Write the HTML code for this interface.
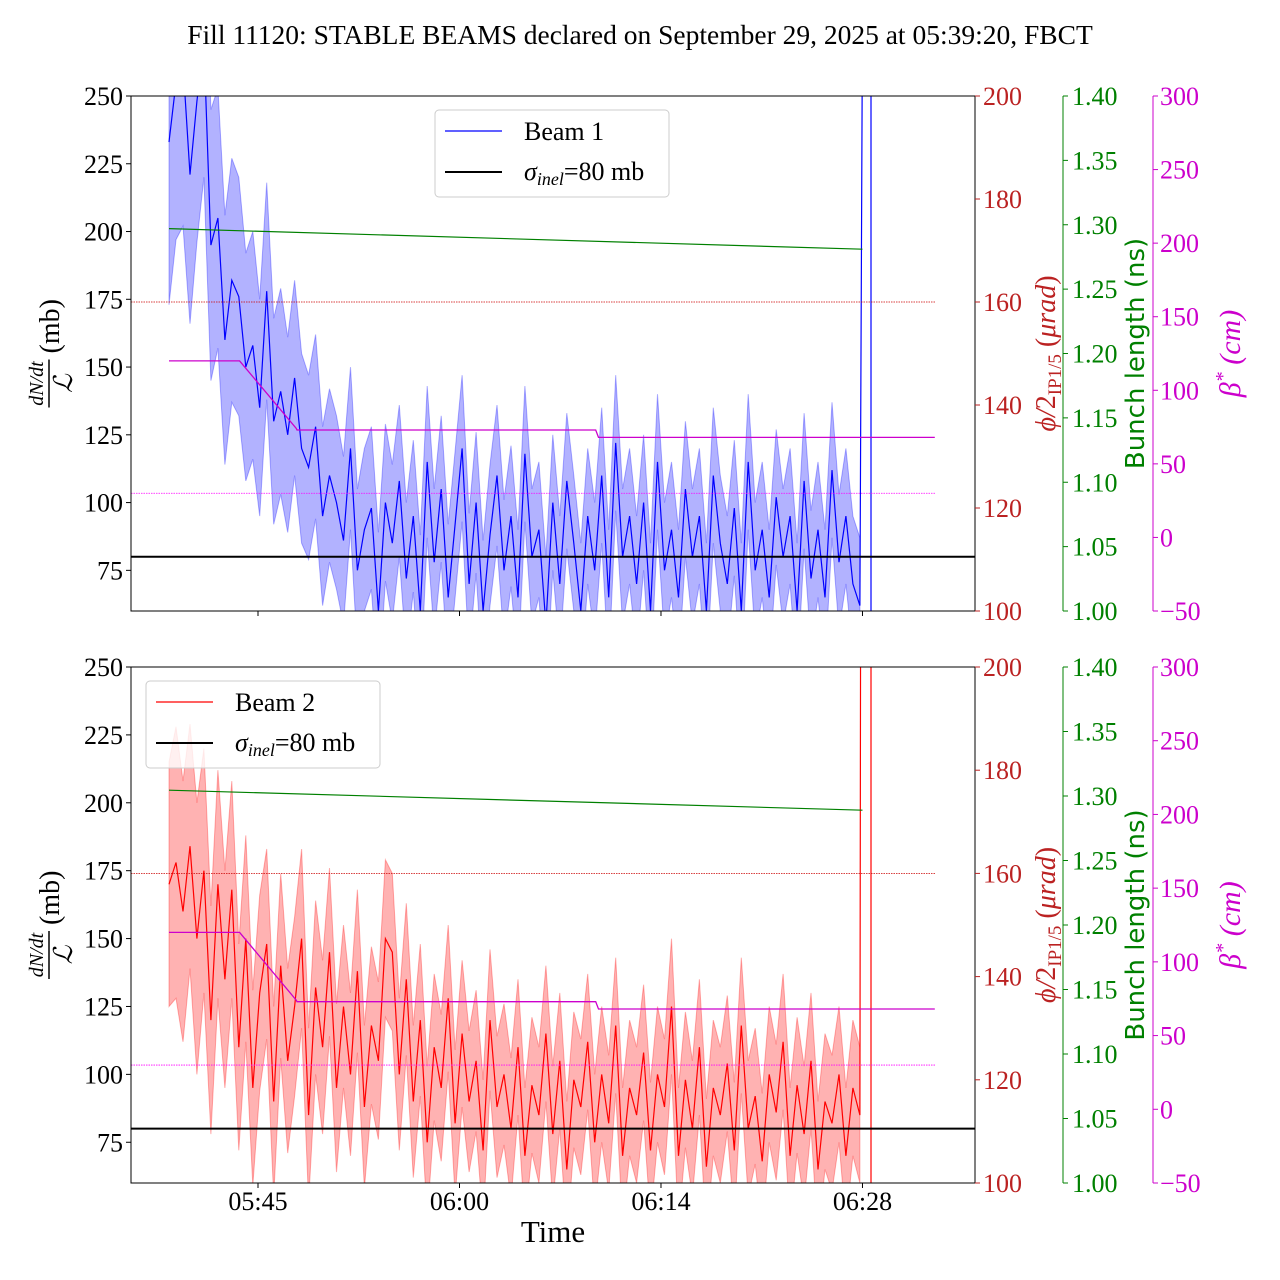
<!DOCTYPE html>
<html><head><meta charset="utf-8"><style>
html,body{margin:0;padding:0;background:#fff;width:1280px;height:1280px;overflow:hidden}
svg{display:block;font-family:"Liberation Serif",serif}
</style></head><body>
<svg id="chart" width="1280" height="1280" viewBox="0 0 1280 1280" xmlns="http://www.w3.org/2000/svg">
<text x="640" y="44" font-size="27.5" text-anchor="middle">Fill 11120: STABLE BEAMS declared on September 29, 2025 at 05:39:20, FBCT</text>
</svg>
<script>
// ---- data ----
const tickLabels = ["05:45","06:00","06:14","06:28"];
const tickMinutes = [45.6, 59.8, 74.0, 88.2];
const startMinute = 39.33;
const stepMinute = 0.4918;
const leftTicks = [75,100,125,150,175,200,225,250];
const redTicks = [100,120,140,160,180,200];
const greenTicks = ["1.00","1.05","1.10","1.15","1.20","1.25","1.30","1.35","1.40"];
const magentaTicks = [-50,0,50,100,150,200,250,300];
const beam1 = [233,255,262,221,248,270,195,205,160,182,176,150,158,135,178,130,141,125,146,120,113,128,95,110,100,86,120,75,90,98,60,100,85,108,72,95,60,115,78,105,65,92,120,70,100,60,88,110,75,95,65,118,80,90,55,100,70,108,85,60,95,75,110,65,122,80,95,70,100,60,115,75,90,65,105,80,95,60,110,85,70,98,60,115,75,90,65,102,80,95,60,108,72,90,65,112,78,95,70,62];
const beam1Err = [60,58,60,55,52,50,50,48,46,45,44,42,42,40,40,38,38,36,36,35,34,34,33,32,32,31,30,30,30,30,29,29,29,28,28,28,28,28,27,27,27,27,27,26,26,26,26,26,26,26,25,25,25,25,25,25,25,25,25,25,25,25,25,25,25,25,25,25,25,25,25,25,25,25,25,25,25,25,25,25,25,25,25,25,25,25,25,25,25,25,25,25,25,25,25,25,25,25,25,25];
const beam2 = [170,178,160,184,150,175,120,170,135,168,110,150,95,130,148,90,140,105,125,150,85,132,110,145,95,125,100,138,88,118,105,150,145,100,135,90,120,75,110,95,128,82,115,90,105,72,120,88,100,80,110,70,96,85,115,78,105,65,98,88,112,75,100,82,118,70,95,85,108,72,100,88,125,70,98,80,110,66,95,85,104,72,118,80,92,68,100,86,112,70,96,78,105,65,90,82,100,70,95,85];
const beam2Err = [45,50,48,45,50,45,42,42,40,40,38,38,36,36,35,35,34,34,33,33,32,32,32,31,31,30,30,30,30,29,29,29,29,28,28,28,28,28,27,27,27,27,27,26,26,26,26,26,26,26,25,25,25,25,25,25,25,25,25,25,25,25,25,25,25,25,25,25,25,25,25,25,25,25,25,25,25,25,25,25,25,25,25,25,25,25,25,25,25,25,25,25,25,25,25,25,25,25,25,25];
const spikeMinutes1 = [88.3, 88.8];
const spikeMinutes2 = [88.1, 88.8];
const bunchTop = [1.297, 1.281];
const bunchBottom = [1.3045, 1.289];
const bunchMinutes = [39.33, 88.2];
const betaMinutes = [39.33, 44.3, 48.3, 48.35, 69.4, 69.6, 93.3];
const betaValues = [120, 120, 74, 73, 73, 68, 68];
const crossingRef = 160;
const betaRef = 30;
const sigmaInel = 80;
// ---- drawing ----
const NS="http://www.w3.org/2000/svg";
const svg=document.getElementById('chart');
const X0=131,X1=975,T0=36.65,T1=96.13;
const xs=t=>X0+(t-T0)/(T1-T0)*(X1-X0);
function mk(tag,attrs,parent){const e=document.createElementNS(NS,tag);for(const k in attrs)e.setAttribute(k,attrs[k]);(parent||svg).appendChild(e);return e;}
function panel(top,bot,beam,err,spikes,bunch,color,fill,label,legendX,idx){
  const g=mk('g',{});
  
  
  const yl=v=>bot-(v-60)/190*(bot-top);
  const yr=v=>bot-(v-100)/100*(bot-top);
  const yg=v=>bot-(v-1.0)/0.4*(bot-top);
  const ym=v=>bot-(v+50)/350*(bot-top);
  const cid='clip'+idx;
  const cp=mk('clipPath',{id:cid},g);mk('rect',{x:X0,y:top,width:X1-X0,height:bot-top},cp);
  const pg=mk('g',{'clip-path':'url(#'+cid+')'},g);
  let up=[],lo=[];
  beam.forEach((v,i)=>{const t=startMinute+i*stepMinute;up.push(xs(t).toFixed(1)+','+yl(v+err[i]).toFixed(1));lo.unshift(xs(t).toFixed(1)+','+yl(v-err[i]).toFixed(1));});
  const band=mk('polygon',{points:up.concat(lo).join(' '),fill:fill,'fill-opacity':0.3,stroke:fill,'stroke-opacity':0.3,'stroke-width':1},pg);
  
  
  let pts=beam.map((v,i)=>xs(startMinute+i*stepMinute).toFixed(1)+','+yl(v).toFixed(1));
  pts.push(xs(spikes[0]).toFixed(1)+','+yl(400));pts.push(xs(spikes[1]).toFixed(1)+','+yl(400));pts.push(xs(spikes[1]).toFixed(1)+','+yl(-100));
  const ln=mk('polyline',{points:pts.join(' '),fill:'none',stroke:color,'stroke-width':1.2},pg);
  
  
  const bl=mk('line',{x1:xs(bunchMinutes[0]),y1:yg(bunch[0]),x2:xs(bunchMinutes[1]),y2:yg(bunch[1]),stroke:'green','stroke-width':1.2},pg);
  
  
  const rr=mk('line',{x1:X0,x2:935,y1:yr(crossingRef),y2:yr(crossingRef),stroke:'#c00','stroke-width':0.8,'stroke-dasharray':'1.5,1'},pg);
  
  
  const mr=mk('line',{x1:X0,x2:935,y1:ym(betaRef),y2:ym(betaRef),stroke:'#f0f','stroke-width':0.8,'stroke-dasharray':'1.5,1'},pg);
  
  
  const bp=mk('polyline',{points:betaMinutes.map((t,i)=>xs(t).toFixed(1)+','+ym(betaValues[i]).toFixed(1)).join(' '),fill:'none',stroke:'#c0c','stroke-width':1.3},pg);
  
  
  const sl=mk('line',{x1:X0,x2:X1,y1:yl(sigmaInel),y2:yl(sigmaInel),stroke:'#000','stroke-width':2},pg);
  
  
  mk('rect',{x:X0,y:top,width:X1-X0,height:bot-top,fill:'none',stroke:'#000','stroke-width':1},g);
  const FS=26;
  leftTicks.forEach(v=>{const y=yl(v);mk('line',{x1:X0-5,x2:X0,y1:y,y2:y,stroke:'#000'},g);const t=mk('text',{x:X0-8,y:y+9,'font-size':FS,'text-anchor':'end'},g);t.textContent=v;});
  redTicks.forEach(v=>{const y=yr(v);mk('line',{x1:X1,x2:X1+5,y1:y,y2:y,stroke:'#b22'},g);const t=mk('text',{x:X1+8,y:y+9,'font-size':FS,fill:'#b22'},g);t.textContent=v;});
  mk('line',{x1:1063,x2:1063,y1:top,y2:bot,stroke:'green'},g);
  greenTicks.forEach(v=>{const y=yg(+v);mk('line',{x1:1063,x2:1068,y1:y,y2:y,stroke:'green'},g);const t=mk('text',{x:1072,y:y+9,'font-size':FS,fill:'green'},g);t.textContent=v;});
  mk('line',{x1:1153,x2:1153,y1:top,y2:bot,stroke:'#c0c'},g);
  magentaTicks.forEach(v=>{const y=ym(v);mk('line',{x1:1153,x2:1158,y1:y,y2:y,stroke:'#c0c'},g);const t=mk('text',{x:1160,y:y+9,'font-size':FS,fill:'#c0c'},g);t.textContent=(v<0?'\u2212'+(-v):v);});
  tickMinutes.forEach((m,i)=>{const x=xs(m);mk('line',{x1:x,x2:x,y1:bot,y2:bot+5,stroke:'#000'},g);if(idx===2){const t=mk('text',{x:x,y:bot+27,'font-size':FS,'text-anchor':'middle'},g);t.textContent=tickLabels[i];}});
  const mid=(top+bot)/2;
  const ylab=mk('g',{transform:'translate(62,'+mid+') rotate(-90)'},g);
  
  
  let t=mk('text',{x:-30,y:-19,'font-size':20,'font-style':'italic','text-anchor':'middle'},ylab);t.textContent='dN/dt';
  mk('line',{x1:-54,x2:-6,y1:-13,y2:-13,stroke:'#000','stroke-width':1.5},ylab);
  t=mk('text',{x:-30,y:10,'font-size':26,'font-style':'italic','text-anchor':'middle','font-family':'DejaVu Serif, serif'},ylab);t.textContent='\u2112';
  t=mk('text',{x:0,y:-3,'font-size':28},ylab);t.textContent='(mb)';
  t=mk('text',{transform:'translate(1055,'+mid+') rotate(-90)','font-size':28,fill:'#b22','text-anchor':'middle'},g);
  t.innerHTML='<tspan font-style="italic">\u03d5/</tspan>2<tspan font-size="19" dy="6">IP1/5</tspan><tspan dy="-6"> (</tspan><tspan font-style="italic">\u03bcrad</tspan>)';
  
  
  t=mk('text',{transform:'translate(1144,'+mid+') rotate(-90)','font-size':26,fill:'green','text-anchor':'middle','font-family':'DejaVu Sans, sans-serif'},g);t.textContent='Bunch length (ns)';
  
  
  t=mk('text',{transform:'translate(1240,'+mid+') rotate(-90)','font-size':30,fill:'#c0c','text-anchor':'middle','font-style':'italic'},g);
  t.innerHTML='\u03b2<tspan dy="-11" font-size="20">*</tspan><tspan dy="11"> (cm)</tspan>';
  
  
  const lg=mk('g',{},g);
  
  
  const ly=top+14;
  mk('rect',{x:legendX,y:ly,width:234,height:87,rx:4,fill:'#fff','fill-opacity':0.8,stroke:'#ccc'},lg);
  mk('line',{x1:legendX+10,x2:legendX+67,y1:ly+21,y2:ly+21,stroke:color,'stroke-width':1.2},lg);
  t=mk('text',{x:legendX+89,y:ly+30,'font-size':26},lg);t.textContent=label;
  mk('line',{x1:legendX+10,x2:legendX+67,y1:ly+62,y2:ly+62,stroke:'#000','stroke-width':2},lg);
  t=mk('text',{x:legendX+89,y:ly+70,'font-size':26},lg);
  t.innerHTML='<tspan font-style="italic">\u03c3</tspan><tspan font-style="italic" font-size="18" dy="5">inel</tspan><tspan dy="-5">=80 mb</tspan>';
}
panel(96,611,beam1,beam1Err,spikeMinutes1,bunchTop,'#00f','#00f','Beam 1',435,1);
panel(667,1183,beam2,beam2Err,spikeMinutes2,bunchBottom,'#f00','#f00','Beam 2',146,2);
const xt=mk('text',{x:553,y:1242,'font-size':31,'text-anchor':'middle'});
xt.textContent='Time';


</script>
</body></html>
